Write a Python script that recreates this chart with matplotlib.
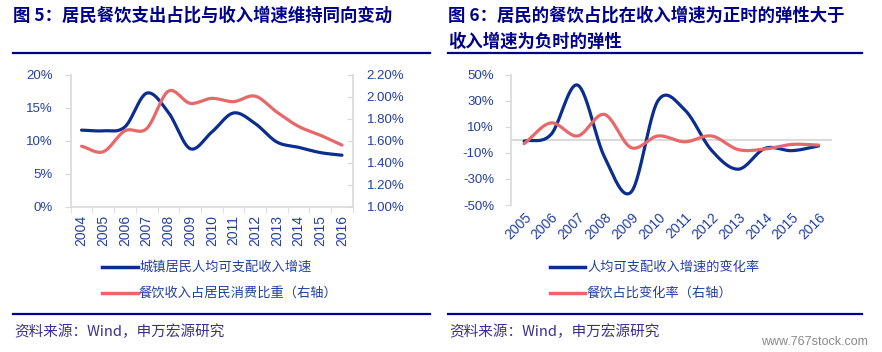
import numpy as np
import matplotlib
matplotlib.use('Agg')
import matplotlib.pyplot as plt
from matplotlib.lines import Line2D

plt.rcParams['font.family'] = ['Liberation Sans', 'Noto Sans CJK SC', 'DejaVu Sans']

# ---- data ----
years_l = ['2004', '2005', '2006', '2007', '2008', '2009', '2010',
           '2011', '2012', '2013', '2014', '2015', '2016']
income_growth = [11.6, 11.5, 12.1, 17.2, 14.3, 8.8, 11.3, 14.2, 12.6, 9.8, 9.0, 8.2, 7.8]
dining_share = [1.55, 1.50, 1.69, 1.71, 2.05, 1.94, 1.985, 1.955, 2.005, 1.86, 1.73, 1.65, 1.56]

years_r = ['2005', '2006', '2007', '2008', '2009', '2010',
           '2011', '2012', '2013', '2014', '2015', '2016']
income_chg = [-1, 4, 42, -13, -40, 30, 23, -8, -22.5, -6.5, -8.3, -4.7]
share_chg = [-3, 13, 3, 19.5, -6, 3, -1.5, 3, -7.5, -7, -3.5, -4]

title_l = '图 5：居民餐饮支出占比与收入增速维持同向变动'
title_r1 = '图 6：居民的餐饮占比在收入增速为正时的弹性大于'
title_r2 = '收入增速为负时的弹性'
legend_l = ['城镇居民人均可支配收入增速', '餐饮收入占居民消费比重（右轴）']
legend_r = ['人均可支配收入增速的变化率', '餐饮占比变化率（右轴）']
source = '资料来源：Wind，申万宏源研究'

BLUE = '#0B2D8F'
RED = '#E8686A'
TXT = '#2340A0'
NAVY = '#00008B'
GRID = '#D9D9D9'


def smooth(y, n=24):
    # catmull-rom style smoothing similar to spreadsheet "smoothed line"
    y = np.asarray(y, float)
    x = np.arange(len(y), dtype=float)
    p = np.concatenate([[2 * y[0] - y[1]], y, [2 * y[-1] - y[-2]]])
    xs, ys = [], []
    t = np.linspace(0, 1, n, endpoint=False)
    for i in range(len(y) - 1):
        p0, p1, p2, p3 = p[i], p[i + 1], p[i + 2], p[i + 3]
        yy = 0.5 * ((2 * p1) + (-p0 + p2) * t + (2 * p0 - 5 * p1 + 4 * p2 - p3) * t ** 2
                    + (-p0 + 3 * p1 - 3 * p2 + p3) * t ** 3)
        xs.append(x[i] + t)
        ys.append(yy)
    xs.append([x[-1]])
    ys.append([y[-1]])
    return np.concatenate(xs), np.concatenate(ys)


W, H = 882, 352
fig = plt.figure(figsize=(W / 100, H / 100), dpi=100)


def fx(px):
    return px / W


def fy(py):
    return 1 - py / H


def hline(x0, x1, y):
    fig.add_artist(Line2D([fx(x0), fx(x1)], [fy(y), fy(y)], color=NAVY, lw=1.6))


# ---- left chart ----
ax = fig.add_axes([fx(70.7), fy(206.7), fx(352.8) - fx(70.7), fy(74.7) - fy(206.7)])
xs, ys = smooth(income_growth)
ax.plot(xs, ys, color=BLUE, lw=2.3, solid_capstyle='round')
ax.set_ylim(0, 20)
ax.set_yticks(np.arange(0, 21, 5))
ax.set_yticklabels([f'{v}%' for v in range(0, 21, 5)])
ax.set_xlim(-0.5, len(years_l) - 0.5)
ax.set_xticks(range(len(years_l)))
ax.set_xticklabels(years_l, rotation=90)
ax.set_xticks(np.arange(-0.5, len(years_l), 1), minor=True)
ax.tick_params(axis='x', which='major', length=0, pad=6, labelsize=10)
ax.tick_params(axis='x', which='minor', length=4, color=GRID, direction='out')
ax.tick_params(axis='y', length=4, color=GRID, pad=9, labelsize=9.5)
ax.tick_params(labelcolor=TXT)
for s in ['top', 'right']:
    ax.spines[s].set_visible(False)
for s in ['left', 'bottom']:
    ax.spines[s].set_color(GRID)
    ax.spines[s].set_linewidth(1.2)

ax2 = ax.twinx()
xs, ys = smooth(dining_share)
ax2.plot(xs, ys, color=RED, lw=2.3, solid_capstyle='round')
ax2.set_ylim(1.0, 2.2)
ax2.set_yticks(np.arange(1.0, 2.21, 0.2))
ax2.set_yticklabels([f'{v:.2f}%' for v in np.arange(1.0, 2.21, 0.2)])
ax2.tick_params(axis='y', length=4, color=GRID, direction='in', labelsize=9.5, labelcolor=TXT, pad=10)
for s in ['top', 'left', 'bottom']:
    ax2.spines[s].set_visible(False)
ax2.spines['right'].set_color(GRID)
ax2.spines['right'].set_linewidth(1.2)

# ---- right chart ----
bx = fig.add_axes([fx(510.7), fy(205), fx(832) - fx(510.7), fy(74.7) - fy(205)])
bx.axhline(0, color=GRID, lw=1.4, zorder=1)
xs, ys = smooth(income_chg)
bx.plot(xs, ys, color=BLUE, lw=2.3, solid_capstyle='round', zorder=3)
xs, ys = smooth(share_chg)
bx.plot(xs, ys, color=RED, lw=2.3, solid_capstyle='round', zorder=4)
bx.set_ylim(-50, 50)
bx.set_yticks(np.arange(-50, 51, 20))
bx.set_yticklabels([f'{v}%' for v in range(-50, 51, 20)])
bx.set_xlim(-0.5, len(years_r) - 0.5)
bx.set_xticks(range(len(years_r)))
bx.set_xticklabels(years_r, rotation=45, ha='right', rotation_mode='anchor')
bx.tick_params(axis='x', length=0, pad=4, labelsize=10)
bx.tick_params(axis='y', length=4, color=GRID, pad=8, labelsize=9.5)
bx.tick_params(labelcolor=TXT)
for s in ['top', 'right', 'bottom']:
    bx.spines[s].set_visible(False)
bx.spines['left'].set_color(GRID)
bx.spines['left'].set_linewidth(1.2)

# ---- titles ----
tfont = dict(family=['Noto Sans CJK SC', 'DejaVu Sans'], weight='bold', color=NAVY, fontsize=12.5)
fig.text(fx(13), fy(16), title_l, va='center', **tfont)
fig.text(fx(448), fy(16), title_r1, va='center', **tfont)
fig.text(fx(448), fy(42), title_r2, va='center', **tfont)
hline(13, 430, 53)
hline(448, 862, 53)

# ---- legends ----
lfont = dict(family=['Noto Sans CJK SC', 'DejaVu Sans'], color=TXT, fontsize=9.5, va='center')
for (x0, x1, tx), labels in [((102, 138, 139), legend_l), ((550, 585, 587), legend_r)]:
    for yy, lab, col in zip([267, 293], labels, [BLUE, RED]):
        fig.add_artist(Line2D([fx(x0), fx(x1)], [fy(yy), fy(yy)], color=col, lw=2.5))
        fig.text(fx(tx), fy(yy), lab, **lfont)

# ---- footer ----
hline(13, 430, 314)
hline(448, 862, 314)
sfont = dict(family=['Noto Sans CJK SC', 'DejaVu Sans'], color='#3B2E8E', fontsize=10.5, va='center')
fig.text(fx(14), fy(332), source, **sfont)
fig.text(fx(449), fy(332), source, **sfont)
fig.text(fx(868), fy(342), 'www.767stock.com', color='#8A8A8A', fontsize=9, ha='right', va='center')

fig.savefig('out.png', dpi=100)
